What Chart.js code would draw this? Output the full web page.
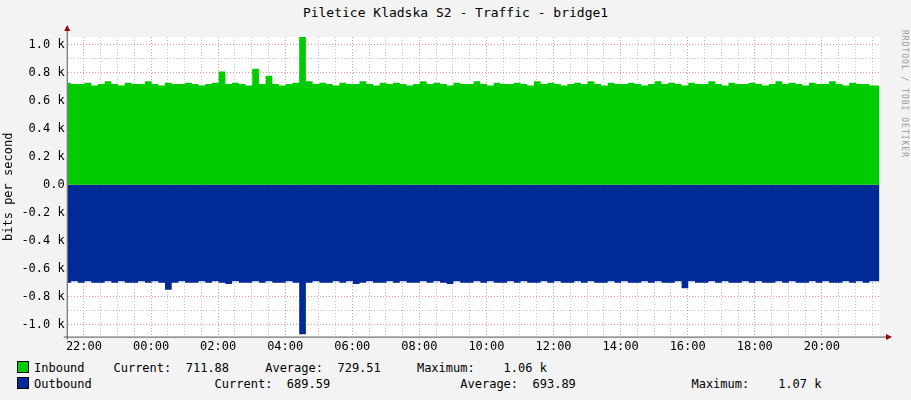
<!DOCTYPE html>
<html>
<head>
<meta charset="utf-8">
<script src="https://cdn.jsdelivr.net/npm/chart.js@4"></script>
<style>
  body { margin: 0; background: #f3f3f3; font-family: "DejaVu Sans Mono", monospace; }
  #wrap { position: relative; width: 911px; height: 400px; }
  #title { position: absolute; top: 5px; width: 911px; text-align: center; font-size: 13px; color: #000; }
  #box { position: absolute; left: 0; top: 22px; width: 895px; height: 335px; }
  #brand { position: absolute; right: 2px; top: 30px; writing-mode: vertical-rl; font-size: 8px; color: #999; letter-spacing: 1px; }
  .leg { position: absolute; left: 17px; font-size: 12px; white-space: pre; color: #000; }
  .sw { display: inline-block; width: 10px; height: 10px; border: 1px solid #000; vertical-align: -1px; margin-right: 5px; }
</style>
</head>
<body>
<div id="wrap">
  <div id="title">Piletice Kladska S2 - Traffic - bridge1</div>
  <div id="brand">RRDTOOL / TOBI OETIKER</div>
  <div id="box"><canvas id="c"></canvas></div>
  <div class="leg" style="top:361px"><span class="sw" style="background:#00cc00"></span>Inbound    Current:  711.88     Average:  729.51     Maximum:    1.06 k</div>
  <div class="leg" style="top:377px"><span class="sw" style="background:#002a97"></span>Outbound                 Current:  689.59                  Average:  693.89                Maximum:    1.07 k</div>
</div>
<script>
// minutes since 21:31, one sample every 12 minutes
const stepMinutes = 12;
const inbound = [
  0.73,0.72,0.72,0.73,0.71,0.72,0.74,0.72,0.71,0.73,0.72,0.72,0.74,0.72,0.71,0.73,
  0.72,0.72,0.73,0.72,0.71,0.72,0.73,0.81,0.72,0.73,0.72,0.71,0.83,0.72,0.78,0.72,
  0.71,0.72,0.73,1.06,0.74,0.72,0.73,0.72,0.71,0.73,0.72,0.72,0.74,0.72,0.71,0.73,
  0.72,0.73,0.72,0.71,0.72,0.74,0.72,0.73,0.72,0.71,0.73,0.72,0.72,0.74,0.72,0.71,
  0.73,0.72,0.72,0.73,0.72,0.71,0.74,0.72,0.73,0.72,0.71,0.72,0.73,0.72,0.74,0.72,
  0.71,0.73,0.72,0.72,0.73,0.72,0.71,0.72,0.74,0.72,0.73,0.72,0.71,0.73,0.72,0.72,
  0.74,0.72,0.71,0.73,0.72,0.72,0.73,0.72,0.71,0.72,0.74,0.72,0.73,0.72,0.71,0.73,
  0.72,0.72,0.74,0.72,0.71,0.73,0.72,0.72,0.71,0.71
];
const outbound = [
  -0.70,-0.69,-0.70,-0.69,-0.70,-0.70,-0.69,-0.70,-0.69,-0.70,-0.70,-0.69,-0.70,-0.69,-0.70,-0.75,
  -0.70,-0.69,-0.70,-0.70,-0.69,-0.70,-0.69,-0.70,-0.71,-0.69,-0.70,-0.70,-0.69,-0.70,-0.69,-0.70,
  -0.70,-0.69,-0.70,-1.07,-0.70,-0.69,-0.70,-0.70,-0.69,-0.70,-0.69,-0.71,-0.70,-0.69,-0.70,-0.70,
  -0.69,-0.70,-0.69,-0.70,-0.70,-0.69,-0.70,-0.69,-0.70,-0.71,-0.69,-0.70,-0.70,-0.69,-0.70,-0.69,
  -0.70,-0.70,-0.69,-0.70,-0.69,-0.70,-0.70,-0.69,-0.70,-0.69,-0.70,-0.70,-0.69,-0.70,-0.69,-0.70,
  -0.70,-0.69,-0.70,-0.69,-0.70,-0.70,-0.69,-0.70,-0.69,-0.70,-0.70,-0.69,-0.74,-0.69,-0.70,-0.70,
  -0.69,-0.70,-0.69,-0.70,-0.70,-0.69,-0.70,-0.69,-0.70,-0.70,-0.69,-0.70,-0.69,-0.70,-0.70,-0.69,
  -0.70,-0.69,-0.70,-0.70,-0.69,-0.70,-0.69,-0.70,-0.69,-0.69
];
const yTickLabels = ['-1.0 k','-0.8 k','-0.6 k','-0.4 k','-0.2 k','0.0','0.2 k','0.4 k','0.6 k','0.8 k','1.0 k'];
const startHour = 21, startMin = 31;

const toPts = arr => arr.map((v, i) => ({ x: i * stepMinutes, y: v }));
const clock = m => {
  const t = (startHour * 60 + startMin + m) % 1440;
  return String(Math.floor(t / 60)).padStart(2, '0') + ':' + String(t % 60).padStart(2, '0');
};
const isMajorX = m => (startHour * 60 + startMin + m) % 120 === 0;
const isMajorY = v => Math.abs(Math.round(v * 10)) % 2 === 0;

const bgPlugin = {
  id: 'bg',
  beforeDraw(chart) {
    const { ctx, chartArea: a } = chart;
    ctx.save();
    ctx.fillStyle = '#fff';
    ctx.fillRect(a.left, a.top, a.width, a.height);
    ctx.restore();
  },
  afterDraw(chart) {
    const { ctx, chartArea: a } = chart;
    ctx.save();
    ctx.strokeStyle = '#555';
    ctx.lineWidth = 1;
    ctx.beginPath();
    ctx.moveTo(a.left - 0.5, a.bottom + 3); ctx.lineTo(a.left - 0.5, a.top - 8);
    ctx.moveTo(a.left - 4, a.bottom + 0.5); ctx.lineTo(a.right + 8, a.bottom + 0.5);
    ctx.stroke();
    ctx.fillStyle = '#a00000';
    ctx.beginPath();
    ctx.moveTo(a.left - 3.5, a.top - 6); ctx.lineTo(a.left + 2.5, a.top - 6); ctx.lineTo(a.left - 0.5, a.top - 12); ctx.fill();
    ctx.beginPath();
    ctx.moveTo(a.right + 6, a.bottom - 2.5); ctx.lineTo(a.right + 6, a.bottom + 3.5); ctx.lineTo(a.right + 12, a.bottom + 0.5); ctx.fill();
    ctx.restore();
  }
};

new Chart(document.getElementById('c'), {
  type: 'line',
  data: {
    datasets: [
      { data: toPts(inbound), borderWidth: 0, backgroundColor: '#00cc00', fill: 'origin', pointRadius: 0, stepped: 'middle' },
      { data: toPts(outbound), borderWidth: 0, backgroundColor: '#002a97', fill: 'origin', pointRadius: 0, stepped: 'middle' }
    ]
  },
  plugins: [bgPlugin],
  options: {
    responsive: true, maintainAspectRatio: false, animation: false,
    layout: { padding: { top: 15, right: 15 } },
    plugins: { legend: { display: false }, tooltip: { enabled: false } },
    scales: {
      x: {
        type: 'linear', min: 0, max: 1453,
        afterBuildTicks: s => { s.ticks = []; for (let m = 29; m <= 1453; m += 30) s.ticks.push({ value: m }); },
        ticks: { autoSkip: false, maxRotation: 0, color: '#000', font: { family: 'DejaVu Sans Mono', size: 12 },
          callback: v => isMajorX(v) ? clock(v) : '' },
        grid: { color: c => isMajorX(c.tick.value) ? 'rgba(230,120,120,0.8)' : 'rgba(170,170,170,0.7)', drawTicks: false, tickBorderDash: [1, 2] },
        border: { display: false, dash: [1, 2] }
      },
      y: {
        min: -1.086, max: 1.057,
        afterBuildTicks: s => { s.ticks = []; for (let k = -10; k <= 10; k++) s.ticks.push({ value: k / 10 }); },
        ticks: { autoSkip: false, color: '#000', font: { family: 'DejaVu Sans Mono', size: 12 },
          callback: v => isMajorY(v) ? yTickLabels[Math.round(v * 5) + 5] : '' },
        title: { display: true, text: 'bits per second', color: '#000', font: { family: 'DejaVu Sans Mono', size: 12 }, padding: 2 },
        grid: { color: c => isMajorY(c.tick.value) ? 'rgba(230,120,120,0.8)' : 'rgba(170,170,170,0.7)', drawTicks: false },
        border: { display: false, dash: [1, 2] }
      }
    }
  }
});
</script>
</body>
</html>
